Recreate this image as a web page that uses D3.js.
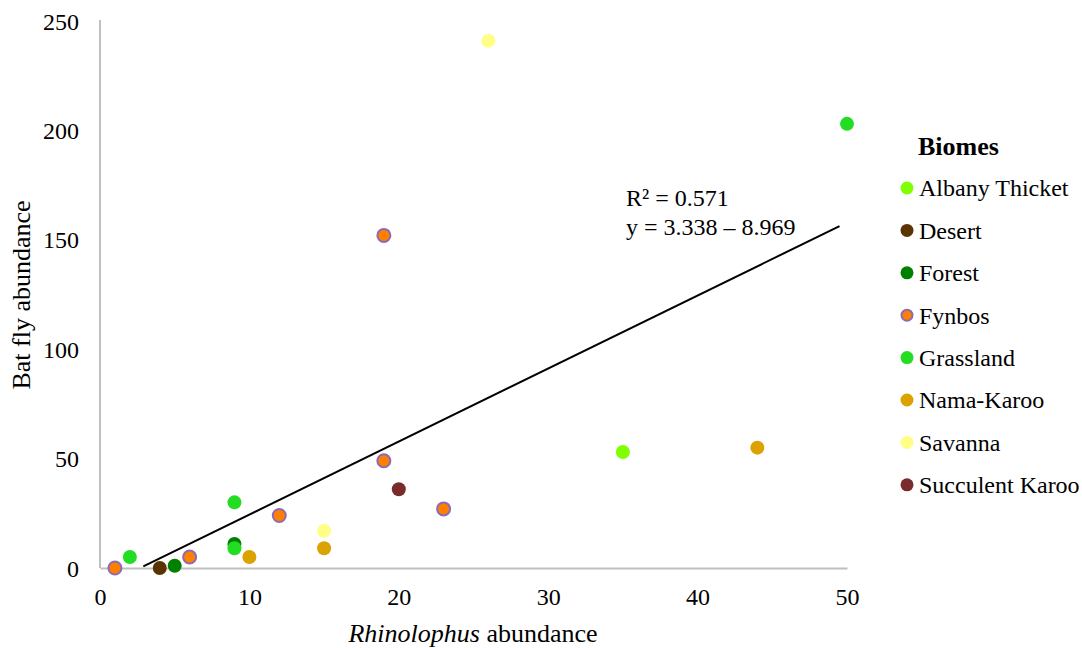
<!DOCTYPE html>
<html>
<head>
<meta charset="utf-8">
<script src="https://cdn.jsdelivr.net/npm/d3@7"></script>
<style>
  html, body { margin: 0; padding: 0; background: #fff; }
  svg text { font-family: "Liberation Serif", "Times New Roman", serif; fill: #000; }
</style>
</head>
<body>
<svg id="chart" width="1082" height="648"></svg>
<script>
// Biomes, in legend order, with their marker colours
const biomes = ["Albany Thicket", "Desert", "Forest", "Fynbos", "Grassland", "Nama-Karoo", "Savanna", "Succulent Karoo"];
const biomeFill = ["#7fff00", "#5a3300", "#008000", "#ff7f00", "#22dd22", "#dba300", "#ffff88", "#7a2b2b"];
const biomeStroke = [null, null, null, "#8c6bb4", null, null, null, null];

// Sites: biome, Rhinolophus abundance, bat fly abundance
const siteBiome = ["Albany Thicket", "Desert", "Forest", "Forest",
  "Fynbos", "Fynbos", "Fynbos", "Fynbos", "Fynbos", "Fynbos",
  "Grassland", "Grassland", "Grassland", "Grassland",
  "Nama-Karoo", "Nama-Karoo", "Nama-Karoo",
  "Savanna", "Savanna", "Succulent Karoo"];
const rhinolophus = [35, 4, 5, 9, 1, 6, 12, 19, 19, 23, 2, 9, 9, 50, 10, 15, 44, 15, 26, 20];
const batFly = [53, 0, 1, 11, 0, 5, 24, 49, 152, 27, 5, 9, 30, 203, 5, 9, 55, 17, 241, 36];

// Axis ticks
const xTicks = [0, 10, 20, 30, 40, 50];
const yTicks = [0, 50, 100, 150, 200, 250];

// Linear trend: y = slope * x + intercept, drawn over this x span
const trendSlope = 3.338;
const trendIntercept = -8.969;
const trendSpan = [2.9, 49.5];
const trendLabels = ["R² = 0.571", "y = 3.338 – 8.969"];

const FONT = '"Liberation Serif", "Times New Roman", serif';
const svg = d3.select("#chart");

const x = d3.scaleLinear().domain([0, 50]).range([100, 847]);
const y = d3.scaleLinear().domain([0, 250]).range([568, 21]);

const fillOf = d3.scaleOrdinal().domain(biomes).range(biomeFill);
const strokeOf = d3.scaleOrdinal().domain(biomes).range(biomeStroke);

// Axes
const xAxis = svg.append("g")
  .attr("transform", `translate(0,${y(0)})`)
  .call(d3.axisBottom(x).tickValues(xTicks).tickSize(0).tickPadding(20).tickFormat(d3.format("d")));
const yAxis = svg.append("g")
  .attr("transform", `translate(${x(0)},0)`)
  .call(d3.axisLeft(y).tickValues(yTicks).tickSize(0).tickPadding(21).tickFormat(d3.format("d")));

[xAxis, yAxis].forEach(g => {
  g.attr("font-family", FONT).attr("font-size", 24);
  g.select(".domain").attr("stroke", "#c0c0c0").attr("stroke-width", 2);
  g.selectAll(".tick text").attr("fill", "#000");
});
xAxis.selectAll(".tick text").attr("dy", "0.71em").attr("y", 20);
yAxis.select(".domain").attr("d", `M0,${y(0)}V${y(250) - 1}`);
yAxis.selectAll(".tick text").attr("dy", "0.34em");

// Axis titles
svg.append("text")
  .attr("x", 473).attr("y", 642)
  .attr("text-anchor", "middle")
  .attr("font-family", FONT)
  .attr("font-size", 26)
  .html('<tspan font-style="italic">Rhinolophus</tspan> abundance');

svg.append("text")
  .attr("transform", "translate(30,295) rotate(-90)")
  .attr("text-anchor", "middle")
  .attr("font-family", FONT)
  .attr("font-size", 26)
  .text("Bat fly abundance");

// Points, grouped by biome in legend order
const sites = siteBiome.map((b, i) => ({ biome: b, x: rhinolophus[i], y: batFly[i] }))
  .sort((a, b) => biomes.indexOf(a.biome) - biomes.indexOf(b.biome));

svg.append("g").selectAll("circle")
  .data(sites)
  .join("circle")
  .attr("cx", d => x(d.x))
  .attr("cy", d => y(d.y))
  .attr("r", d => strokeOf(d.biome) ? 6.5 : 7)
  .attr("fill", d => fillOf(d.biome))
  .attr("stroke", d => strokeOf(d.biome) || "none")
  .attr("stroke-width", 2);

// Trend line
svg.append("line")
  .attr("x1", x(trendSpan[0]))
  .attr("y1", y(trendSlope * trendSpan[0] + trendIntercept))
  .attr("x2", x(trendSpan[1]))
  .attr("y2", y(trendSlope * trendSpan[1] + trendIntercept))
  .attr("stroke", "#000")
  .attr("stroke-width", 2);

svg.append("g").selectAll("text")
  .data(trendLabels)
  .join("text")
  .attr("x", 626)
  .attr("y", (d, i) => 206 + i * 29)
  .attr("font-family", FONT)
  .attr("font-size", 24)
  .text(d => d);

// Legend
const legend = svg.append("g");
legend.append("text")
  .attr("x", 918).attr("y", 155)
  .attr("font-family", FONT)
  .attr("font-size", 26)
  .attr("font-weight", "bold")
  .text("Biomes");

const item = legend.selectAll("g.item")
  .data(biomes)
  .join("g")
  .attr("class", "item")
  .attr("transform", (d, i) => `translate(907,${188 + i * 42.4})`);

item.append("circle")
  .attr("r", d => strokeOf(d) ? 5.5 : 6.5)
  .attr("fill", d => fillOf(d))
  .attr("stroke", d => strokeOf(d) || "none")
  .attr("stroke-width", 2);

item.append("text")
  .attr("x", 12)
  .attr("dy", "0.35em")
  .attr("font-family", FONT)
  .attr("font-size", 24)
  .text(d => d);
</script>
</body>
</html>
